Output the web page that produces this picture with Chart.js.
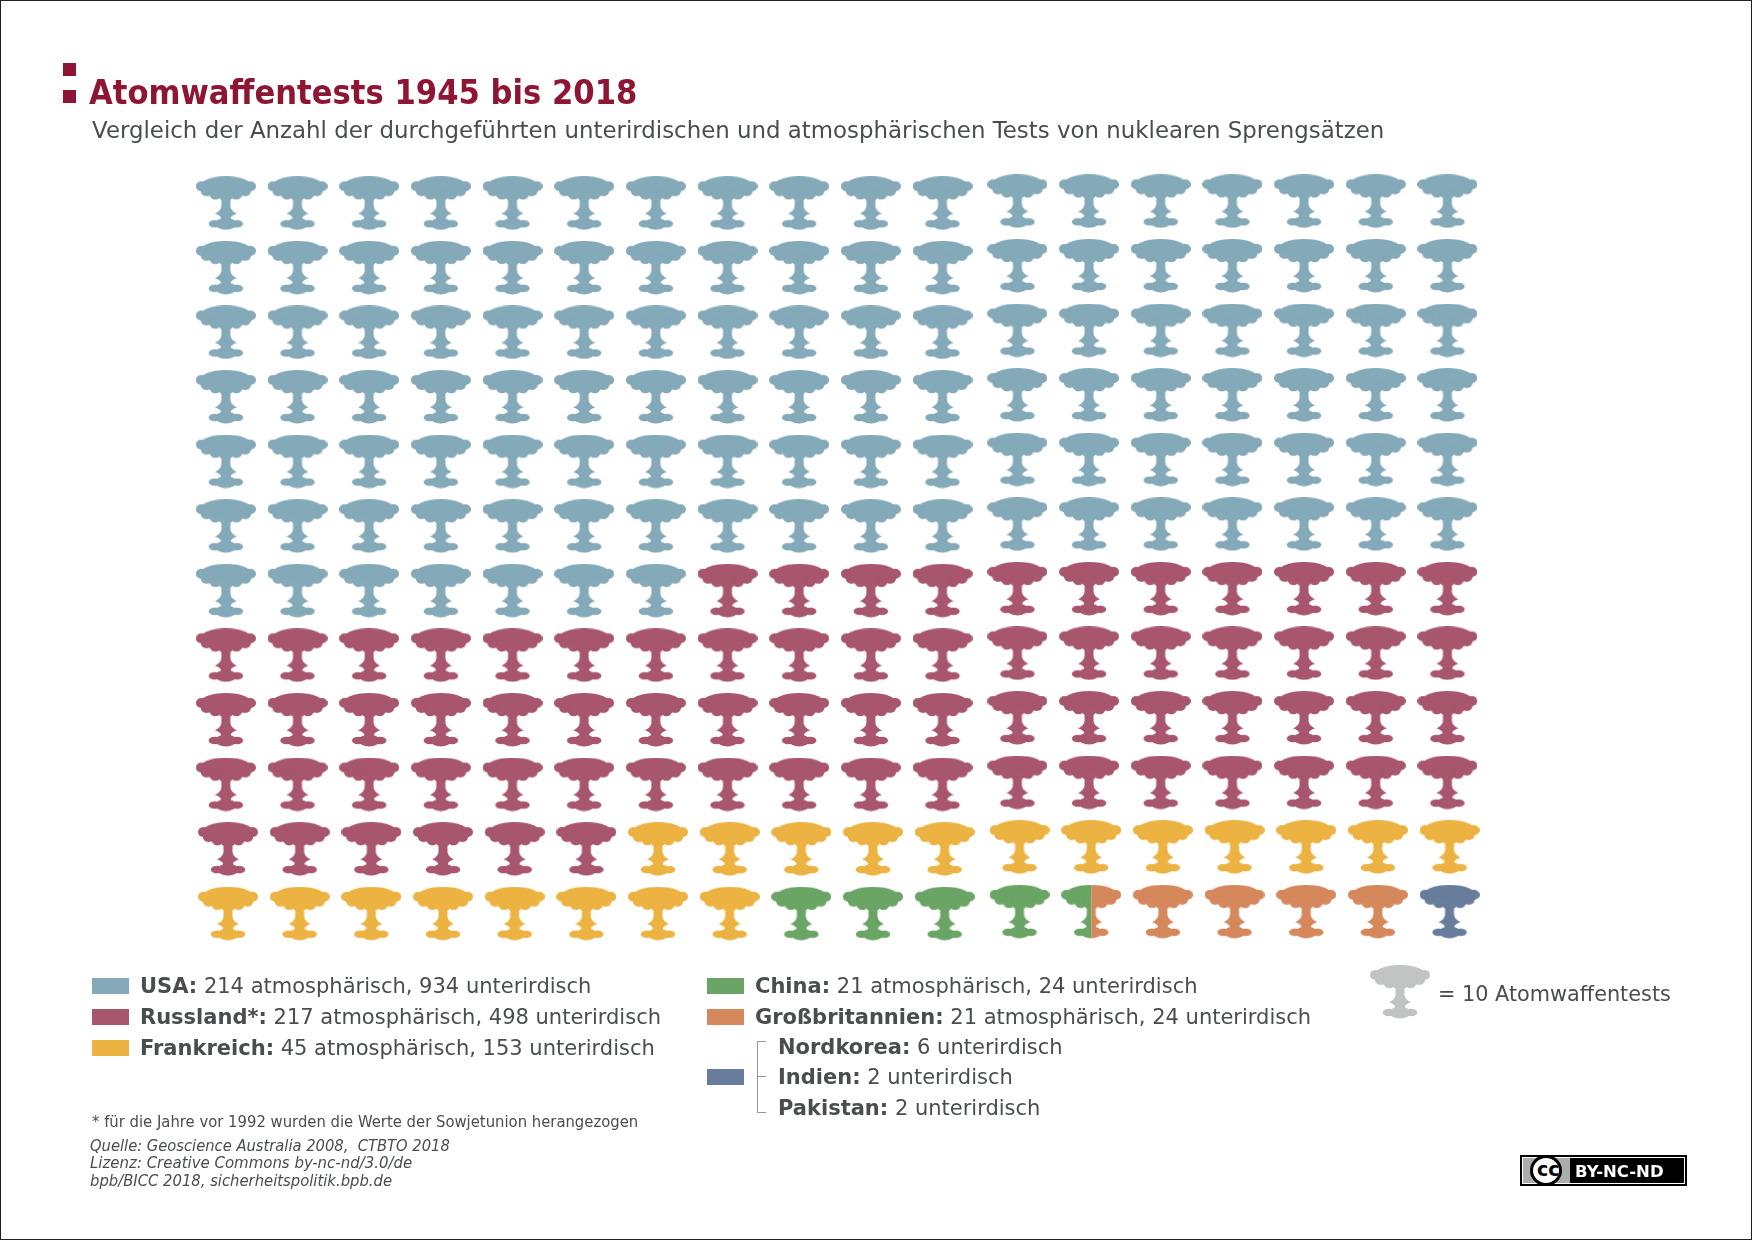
<!DOCTYPE html>
<html lang="de">
<head>
<meta charset="utf-8">
<title>Atomwaffentests 1945 bis 2018</title>
<script src="https://cdn.jsdelivr.net/npm/chart.js@4"></script>
<style>
    html, body { margin: 0; padding: 0; background: #fff; }
    #page { position: relative; width: 1754px; height: 1240px; overflow: hidden; font-family: "DejaVu Sans", sans-serif; color: #4a4d50; }
    #frame { position: absolute; left: 0; top: 0; width: 1750px; height: 1238px; border: 1px solid #222; }
    #chart { position: absolute; left: 0; top: 0; }
    .txt { position: absolute; white-space: pre; transform-origin: left center; }
    .box { position: absolute; }
</style>
</head>
<body>
<div id="page">
    <div id="frame"></div>
    <canvas id="chart" width="1754" height="1240"></canvas>
</div>
<script>
// Werte aus der Grafik
const categories = ['USA', 'Russland*', 'Frankreich', 'China', 'Großbritannien', 'Nordkorea', 'Indien', 'Pakistan'];
const atmospheric = [214, 217, 45, 21, 21, null, null, null];
const underground = [934, 498, 153, 24, 24, 6, 2, 2];

// Icons pro Gruppe (1 Icon = 10 Tests), Reihenfolge wie in der Grafik
const iconGroups = ['USA', 'Russland', 'Frankreich', 'China', 'Großbritannien', 'Nordkorea/Indien/Pakistan'];
const iconCounts = [115, 71, 20, 4.5, 4.5, 1];
const iconColors = ['#84a9b8', '#a8566d', '#ecb343', '#6ba566', '#d5885c', '#687d9c'];

const COLS = 18;
const ROWS = 12;

// Zeichnet den Atompilz in eine 60x54-Box
function drawMushroom(ctx, color) {
    ctx.fillStyle = color;
    const blobs = [
        [30, 11, 27, 11], [5.5, 10, 5.5, 5], [54.5, 10, 5.5, 5],
        [10.5, 15, 5.5, 5], [49.5, 15, 5.5, 5], [19.5, 17.8, 5.8, 5.5], [40.5, 17.8, 5.8, 5.5],
        [30, 19, 8, 5.5],
        [19, 47.5, 6.2, 3.8], [41, 47.5, 6.2, 3.8], [30, 47.5, 10.5, 6]
    ];
    blobs.forEach(b => {
        ctx.beginPath();
        ctx.ellipse(b[0], b[1], b[2], b[3], 0, 0, Math.PI * 2);
        ctx.fill();
    });
    ctx.beginPath();
    ctx.moveTo(25.5, 20);
    ctx.lineTo(34.5, 20);
    ctx.lineTo(34.5, 30);
    ctx.quadraticCurveTo(34.8, 34, 41, 37.5);
    ctx.quadraticCurveTo(35.2, 39, 34.8, 42);
    ctx.lineTo(37, 47);
    ctx.lineTo(23, 47);
    ctx.lineTo(25.2, 42);
    ctx.quadraticCurveTo(24.8, 39, 19, 37.5);
    ctx.quadraticCurveTo(25.2, 34, 25.5, 30);
    ctx.closePath();
    ctx.fill();
}

// part: 'full', 'left' oder 'right' (geteiltes Icon China/Großbritannien)
function makeIcon(color, part) {
    const c = document.createElement('canvas');
    c.width = 60;
    c.height = 54;
    const ctx = c.getContext('2d');
    if (part !== 'full') {
        ctx.beginPath();
        ctx.rect(part === 'left' ? 0 : 30, 0, 30, 54);
        ctx.clip();
    }
    drawMushroom(ctx, color);
    return c;
}

// Kleine Versätze wie im Original: rechter Block und die unteren zwei Reihen
function cellX(col, row) {
    return col + (col >= 11 ? 0.045 : 0) + (row >= 10 ? 0.03 : 0);
}
function cellY(col, row) {
    return row - (col >= 11 ? 0.03 : 0);
}

// Icons werden zeilenweise aufgefüllt
function buildDatasets() {
    let pos = 0;
    return iconGroups.map((group, i) => {
        const start = pos;
        const end = pos + iconCounts[i];
        const points = [];
        const styles = [];
        for (let cell = Math.floor(start); cell < Math.ceil(end); cell++) {
            const col = cell % COLS;
            const row = Math.floor(cell / COLS);
            points.push({ x: cellX(col, row), y: cellY(col, row) });
            let part = 'full';
            if (cell < start) part = 'right';
            else if (cell + 1 > end) part = 'left';
            styles.push(makeIcon(iconColors[i], part));
        }
        pos = end;
        return {
            label: group,
            data: points,
            pointStyle: styles,
            pointRadius: 20,
            pointHoverRadius: 20,
            backgroundColor: iconColors[i],
            showLine: false
        };
    });
}

new Chart(document.getElementById('chart'), {
    type: 'scatter',
    data: { datasets: buildDatasets() },
    options: {
        responsive: false,
        animation: false,
        devicePixelRatio: 1,
        layout: { padding: { left: 190, right: 274, top: 171, bottom: 294 } },
        scales: {
            x: { display: false, min: -0.5, max: COLS - 0.5 },
            y: { display: false, reverse: true, min: -0.5, max: ROWS - 0.5 }
        },
        plugins: {
            legend: { display: false },
            title: { display: false },
            tooltip: { enabled: false }
        }
    }
});

// Texte und Legende
const page = document.getElementById('page');

function addText(html, x, cy, size, opts = {}) {
    const el = document.createElement('div');
    el.className = 'txt';
    el.innerHTML = html;
    el.style.left = x + 'px';
    el.style.top = (cy - size) + 'px';
    el.style.lineHeight = (size * 2) + 'px';
    el.style.fontSize = size + 'px';
    if (opts.color) el.style.color = opts.color;
    if (opts.bold) el.style.fontWeight = 'bold';
    if (opts.italic) el.style.fontStyle = 'italic';
    if (opts.stretch) el.style.transform = `scaleX(${opts.stretch})`;
    page.appendChild(el);
    return el;
}

function addBox(x, y, w, h, color) {
    const el = document.createElement('div');
    el.className = 'box';
    el.style.cssText = `left:${x}px;top:${y}px;width:${w}px;height:${h}px;background:${color}`;
    page.appendChild(el);
    return el;
}

function legendLabel(i) {
    const parts = [];
    if (atmospheric[i] !== null) parts.push(atmospheric[i] + ' atmosphärisch');
    parts.push(underground[i] + ' unterirdisch');
    return `<b>${categories[i]}:</b> ${parts.join(', ')}`;
}

// Kopf
addBox(63, 63, 13, 13, '#8e1534');
addBox(63, 90, 13, 13, '#8e1534');
addText('Atomwaffentests 1945 bis 2018', 89, 92.5, 33, { bold: true, color: '#8e1534', stretch: 0.93 });
addText('Vergleich der Anzahl der durchgeführten unterirdischen und atmosphärischen Tests von nuklearen Sprengsätzen', 92, 130, 22.5, { stretch: 1.017 });

// Legende links
[0, 1, 2].forEach((i, k) => {
    const cy = [985.5, 1016.5, 1047.5][k];
    addBox(92, cy - 8, 37, 16, iconColors[i]);
    addText(legendLabel(i), 140, cy, 21);
});
// Legende rechts
[3, 4].forEach((i, k) => {
    const cy = [985.5, 1016.5][k];
    addBox(707, cy - 8, 37, 16, iconColors[i]);
    addText(legendLabel(i), 755, cy, 21);
});
addBox(707, 1069, 37, 16, iconColors[5]);
[5, 6, 7].forEach((i, k) => {
    addText(legendLabel(i), 778, [1046.5, 1076.5, 1107.5][k], 21);
});
// Klammer
addBox(757, 1041, 1, 72, '#999');
addBox(757, 1041, 9, 1, '#999');
addBox(757, 1076, 9, 1, '#999');
addBox(757, 1112, 9, 1, '#999');

// Schlüssel: 1 Icon = 10 Tests
const keyIcon = makeIcon('#c2c3c3', 'full');
keyIcon.style.cssText = 'position:absolute;left:1370px;top:965px';
page.appendChild(keyIcon);
addText('= 10 Atomwaffentests', 1438, 993.5, 21, { stretch: 0.99 });

// Fußnoten
addText('* für die Jahre vor 1992 wurden die Werte der Sowjetunion herangezogen', 92, 1121.5, 16, { stretch: 0.927 });
addText('Quelle: Geoscience Australia 2008,  CTBTO 2018', 90, 1146, 16, { italic: true, stretch: 0.92 });
addText('Lizenz: Creative Commons by-nc-nd/3.0/de', 90, 1163, 16, { italic: true, stretch: 0.935 });
addText('bpb/BICC 2018, sicherheitspolitik.bpb.de', 90, 1181, 16, { italic: true, stretch: 0.925 });

// CC-Badge
addBox(1520, 1155, 167, 31, '#000');
addBox(1522, 1157, 163, 27, '#fff');
addBox(1523, 1158, 161, 25, '#000');
addBox(1523, 1158, 47, 25, '#a9adab');
const ring = addBox(1530, 1155, 32, 31, '#000');
ring.style.borderRadius = '50%';
const inner = addBox(1533, 1158, 26, 25, '#fff');
inner.style.borderRadius = '50%';
addText('cc', 1537, 1169, 19, { bold: true, color: '#000' });
addText('BY-NC-ND', 1575, 1171.5, 16, { bold: true, color: '#fff', stretch: 1.03 });
</script>
</body>
</html>
